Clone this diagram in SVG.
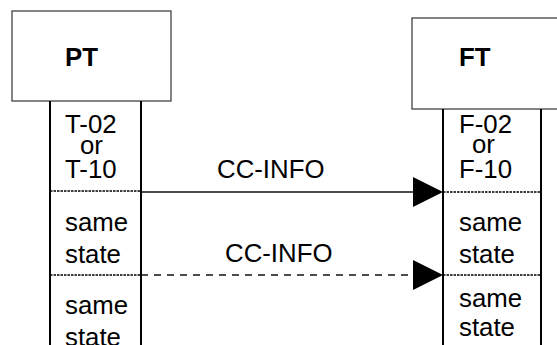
<svg xmlns="http://www.w3.org/2000/svg" width="557" height="345" viewBox="0 0 557 345">
<defs>
<style>
.box{fill:#fff;stroke:#333;stroke-width:1.2}
.life{stroke:#000;stroke-width:2;fill:none}
.sep{stroke:#000;stroke-width:1.5;stroke-dasharray:2.5,1}
.msg{stroke:#111;stroke-width:1.3;fill:none}
.dash{stroke-dasharray:7,6}
.head{fill:#000}
text{font-family:"Liberation Sans",Arial,sans-serif;font-size:25.8px;fill:#000}
.title{font-weight:bold}
</style>
</defs>
<rect width="557" height="345" fill="#fff"/>
<g id="PT">
<rect class="box" x="12" y="11" width="159" height="90"/>
<text class="title" x="65" y="66">PT</text>
<line class="life" x1="50" y1="101" x2="50" y2="345"/>
<line class="life" x1="141" y1="101" x2="141" y2="345"/>
<line class="sep" x1="50" y1="191" x2="141" y2="191"/>
<line class="sep" x1="50" y1="275" x2="141" y2="275"/>
<text x="65" y="133">T-02</text>
<text x="80" y="154">or</text>
<text x="65" y="178">T-10</text>
<text x="65" y="231">same</text>
<text x="65" y="263">state</text>
<text x="65" y="314">same</text>
<text x="65" y="346">state</text>
</g>
<g id="FT">
<rect class="box" x="412" y="18" width="160" height="91"/>
<text class="title" x="459" y="66">FT</text>
<line class="life" x1="443" y1="109" x2="443" y2="345"/>
<line class="life" x1="541" y1="109" x2="541" y2="345"/>
<line class="sep" x1="443" y1="192" x2="541" y2="192"/>
<line class="sep" x1="443" y1="275" x2="541" y2="275"/>
<text x="459" y="133">F-02</text>
<text x="472" y="153">or</text>
<text x="459" y="178">F-10</text>
<text x="459" y="231">same</text>
<text x="459" y="263">state</text>
<text x="459" y="307">same</text>
<text x="459" y="336">state</text>
</g>
<g id="connectors">
<line class="msg" x1="141" y1="192" x2="414" y2="192"/>
<polygon class="head" points="413,177 443,192 413,207"/>
<text x="217" y="178">CC-INFO</text>
<line class="msg dash" x1="141" y1="275" x2="414" y2="275"/>
<polygon class="head" points="413,260 443,275 413,290"/>
<text x="225" y="262">CC-INFO</text>
</g>
</svg>
